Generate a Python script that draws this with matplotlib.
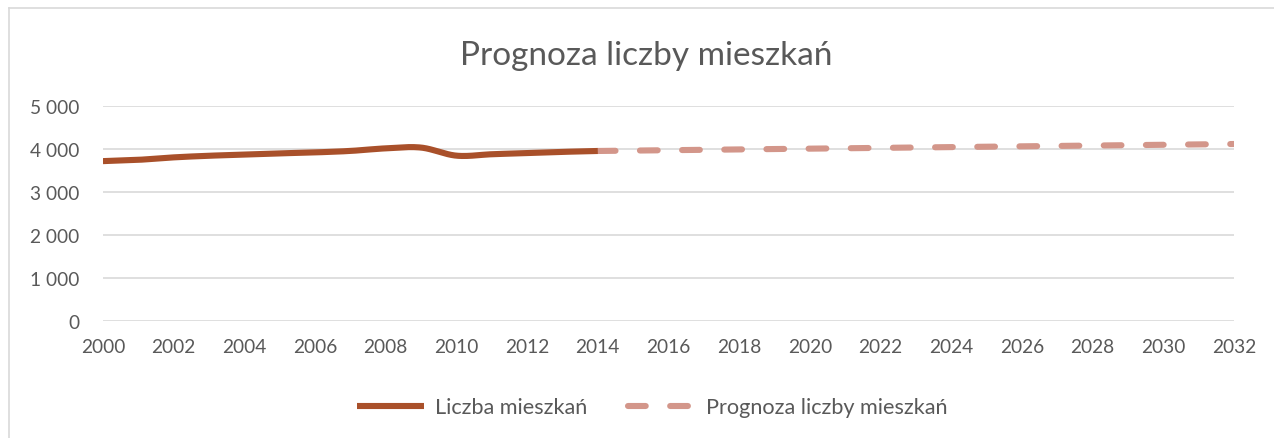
import numpy as np
import matplotlib
matplotlib.use('Agg')
import matplotlib.pyplot as plt
from matplotlib.lines import Line2D

plt.rcParams['font.family'] = ['Lato', 'DejaVu Sans']

# Data
years_hist = [2000, 2001, 2002, 2003, 2004, 2005, 2006, 2007,
              2008, 2009, 2010, 2011, 2012, 2013, 2014]
flats_hist = [3725, 3755, 3812, 3850, 3876, 3905, 3928, 3962,
              4022, 4040, 3852, 3885, 3913, 3940, 3961]

years_fc = [2014, 2015, 2016, 2017, 2018, 2019, 2020, 2021, 2022, 2023,
            2024, 2025, 2026, 2027, 2028, 2029, 2030, 2031, 2032]
flats_fc = [3961, 3970, 3979, 3988, 3997, 4006, 4015, 4024, 4033, 4042,
            4051, 4060, 4069, 4078, 4087, 4096, 4105, 4114, 4123]

x_ticks = list(range(2000, 2033, 2))
y_ticks = [0, 1000, 2000, 3000, 4000, 5000]

title = 'Prognoza liczby mieszkań'
label_hist = 'Liczba mieszkań'
label_fc = 'Prognoza liczby mieszkań'

c_hist = '#A9502A'
c_fc = '#D3968A'
c_text = '#595959'
c_grid = '#D9D9D9'


def smooth(x, y, n=20):
    # Catmull-Rom curve through the points, like Excel's smoothed line
    x = np.asarray(x, float)
    y = np.asarray(y, float)
    px = np.concatenate([[2 * x[0] - x[1]], x, [2 * x[-1] - x[-2]]])
    py = np.concatenate([[2 * y[0] - y[1]], y, [2 * y[-1] - y[-2]]])
    xs, ys = [], []
    t = np.linspace(0, 1, n, endpoint=False)
    for i in range(1, len(px) - 2):
        for p, out in ((px, xs), (py, ys)):
            p0, p1, p2, p3 = p[i - 1], p[i], p[i + 1], p[i + 2]
            out.extend(0.5 * ((2 * p1) + (-p0 + p2) * t
                              + (2 * p0 - 5 * p1 + 4 * p2 - p3) * t ** 2
                              + (-p0 + 3 * p1 - 3 * p2 + p3) * t ** 3))
    xs.append(x[-1])
    ys.append(y[-1])
    return np.array(xs), np.array(ys)


fig = plt.figure(figsize=(12.74, 4.39), dpi=100)
ax = fig.add_axes([0.0808, 0.2658, 0.8878, 0.4898])

sx, sy = smooth(years_hist, flats_hist)
ax.plot(sx, sy, color=c_hist, lw=4.4, solid_capstyle='butt', zorder=3,
        label=label_hist)
ax.plot(years_fc, flats_fc, color=c_fc, lw=4.4, dashes=(2.9, 4.0),
        dash_capstyle='round', zorder=2, label=label_fc)

ax.set_xlim(2000, 2032)
ax.set_ylim(0, 5000)
ax.set_xticks(x_ticks)
ax.set_yticks(y_ticks)
ax.set_yticklabels(['{:,}'.format(v).replace(',', ' ') for v in y_ticks])
ax.grid(axis='y', color=c_grid, lw=1.2)
ax.set_axisbelow(True)
for s in ax.spines.values():
    s.set_visible(False)
ax.tick_params(length=0, labelsize=13.8, colors=c_text)
ax.tick_params(axis='y', pad=17)
ax.tick_params(axis='x', pad=12)

fig.text(0.507, 0.872, title, ha='center', va='center', fontsize=24,
         color=c_text)

fig.legend(loc='center', bbox_to_anchor=(0.512, 0.07), ncol=2,
           frameon=False, fontsize=15.6, labelcolor=c_text,
           handlelength=3.1, handletextpad=0.5, columnspacing=1.9)

# light chart-area frame (only top and left edges are visible)
fig.add_artist(Line2D([9 / 1274, 9 / 1274], [0, 1 - 9 / 439],
                      transform=fig.transFigure, color=c_grid, lw=1.2))
fig.add_artist(Line2D([9 / 1274, 1], [1 - 9 / 439, 1 - 9 / 439],
                      transform=fig.transFigure, color=c_grid, lw=1.2))

fig.savefig('out.png', dpi=100)
